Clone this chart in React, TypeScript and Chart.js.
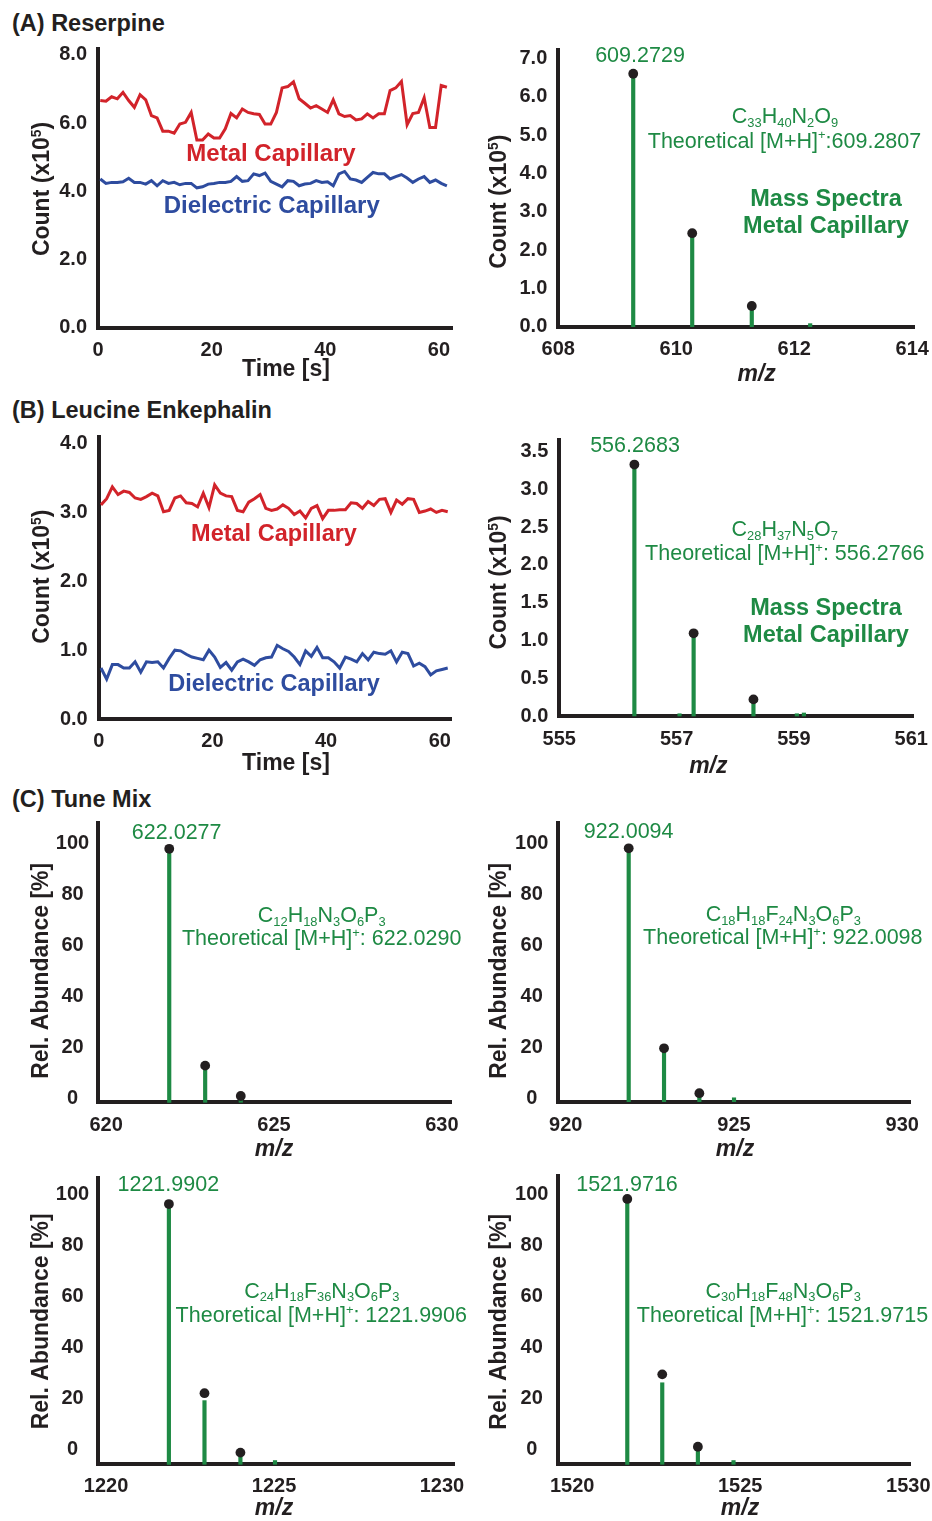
import React, { useEffect, useRef } from 'react';
import { Chart, registerables } from 'chart.js';

Chart.register(...registerables);

const FONT = '"Liberation Sans", Arial, Helvetica, sans-serif';
const INK = '#231f20';
const RED = '#d2232a';
const BLUE = '#2e4c9f';
const GREEN = '#1e8a44';

// ---------- time traces ----------
const timeS = [0.4, 1.4, 2.4, 3.4, 4.4, 5.4, 6.4, 7.4, 8.4, 9.4, 10.4, 11.4, 12.4, 13.4, 14.4, 15.4, 16.4, 17.4, 18.4, 19.4, 20.4, 21.4, 22.4, 23.4, 24.4, 25.4, 26.4, 27.4, 28.4, 29.4, 30.4, 31.4, 32.4, 33.4, 34.4, 35.4, 36.4, 37.4, 38.4, 39.4, 40.4, 41.4, 42.4, 43.4, 44.4, 45.4, 46.4, 47.4, 48.4, 49.4, 50.4, 51.4, 52.4, 53.4, 54.4, 55.4, 56.4, 57.4, 58.4, 59.4, 60.4, 61.4];
const timeTicks = [0, 20, 40, 60];

const reserpineMetal = [6.66, 6.64, 6.77, 6.71, 6.9, 6.66, 6.46, 6.83, 6.68, 6.22, 6.15, 5.76, 5.76, 5.7, 5.97, 6.02, 6.31, 5.5, 5.5, 5.68, 5.56, 5.56, 5.83, 6.28, 6.15, 6.41, 6.31, 6.27, 6.25, 5.97, 5.97, 6.31, 7.03, 7.07, 7.21, 6.71, 6.58, 6.44, 6.51, 6.41, 6.31, 6.68, 6.27, 6.19, 6.22, 6.09, 6.12, 6.27, 6.15, 6.27, 6.27, 6.95, 7.03, 7.22, 5.95, 6.28, 6.31, 6.74, 5.87, 5.87, 7.1, 7.05];
const reserpineDielectric = [4.36, 4.23, 4.26, 4.26, 4.28, 4.38, 4.26, 4.26, 4.21, 4.31, 4.16, 4.31, 4.23, 4.26, 4.19, 4.23, 4.23, 4.1, 4.13, 4.21, 4.23, 4.26, 4.26, 4.29, 4.43, 4.29, 4.31, 4.51, 4.46, 4.53, 4.29, 4.21, 4.13, 4.31, 4.29, 4.16, 4.21, 4.23, 4.31, 4.26, 4.28, 4.16, 4.51, 4.58, 4.36, 4.33, 4.26, 4.41, 4.55, 4.51, 4.51, 4.36, 4.43, 4.49, 4.39, 4.26, 4.36, 4.43, 4.26, 4.33, 4.23, 4.16];
const reserpineCountTicks = [0, 2, 4, 6, 8];

const leuEnkMetal = [3.11, 3.2, 3.37, 3.26, 3.31, 3.29, 3.21, 3.19, 3.23, 3.28, 3.24, 3.01, 3.03, 3.21, 3.24, 3.14, 3.13, 3.08, 3.28, 3.07, 3.4, 3.28, 3.24, 3.23, 3.03, 3.01, 3.15, 3.2, 3.26, 3.06, 3.03, 3.05, 3.11, 3.06, 2.97, 3.02, 2.92, 3.06, 3.1, 2.91, 3.03, 3.03, 3.04, 3.04, 3.14, 3.13, 3.06, 3.16, 3.1, 3.19, 3.2, 3.0, 3.18, 3.12, 3.2, 3.19, 3.0, 3.02, 3.05, 3.0, 3.03, 3.01];
const leuEnkDielectric = [0.74, 0.58, 0.79, 0.79, 0.74, 0.74, 0.83, 0.68, 0.83, 0.82, 0.83, 0.74, 0.88, 1.0, 0.99, 0.94, 0.9, 0.88, 0.86, 1.0, 0.9, 0.75, 0.82, 0.71, 0.83, 0.87, 0.83, 0.78, 0.86, 0.89, 0.9, 1.07, 1.02, 0.98, 0.9, 0.79, 0.99, 0.91, 1.04, 0.89, 0.89, 0.83, 0.74, 0.9, 0.87, 0.83, 0.95, 0.86, 0.97, 0.95, 0.94, 0.99, 0.83, 0.97, 0.95, 0.77, 0.81, 0.76, 0.64, 0.7, 0.72, 0.74];
const leuEnkCountTicks = [0, 1, 2, 3, 4];

// ---------- mass spectra ----------
const reserpineMz = [609.27, 610.27, 611.28];
const reserpineCounts = [6.6, 2.44, 0.54];
const reserpineMinorMz = [612.27];
const reserpineMinorCounts = [0.08];
const reserpineMzTicks = [608, 610, 612, 614];
const reserpineSpecTicks = [0, 1, 2, 3, 4, 5, 6, 7];

const leuEnkMz = [556.28, 557.29, 558.31];
const leuEnkCounts = [3.33, 1.095, 0.22];
const leuEnkMinorMz = [557.05, 559.05, 559.17];
const leuEnkMinorCounts = [0.03, 0.03, 0.04];
const leuEnkMzTicks = [555, 557, 559, 561];
const leuEnkSpecTicks = [0, 0.5, 1, 1.5, 2, 2.5, 3, 3.5];

const abundanceTicks = [0, 20, 40, 60, 80, 100];

const tune622Mz = [621.88, 622.95, 624.01];
const tune622Stems = [97.8, 12.8, 0.9];
const tune622Dots = [97.8, 12.8, 0.9];
const tune622Ticks = [620, 625, 630];

const tune922Mz = [921.87, 922.92, 923.97];
const tune922Stems = [98.0, 19.6, 2.0];
const tune922Dots = [98.0, 19.6, 2.0];
const tune922MinorMz = [925.0];
const tune922MinorVals = [0.2];
const tune922Ticks = [920, 925, 930];

const tune1222Mz = [1221.87, 1222.93, 1224.0];
const tune1222Stems = [96.2, 19.1, -2.9];
const tune1222Dots = [96.2, 22.0, -1.3];
const tune1222MinorMz = [1225.03];
const tune1222MinorVals = [-4.4];
const tune1222Ticks = [1220, 1225, 1230];

const tune1522Mz = [1521.64, 1522.68, 1523.74];
const tune1522Stems = [98.2, 26.1, -0.5];
const tune1522Dots = [98.2, 29.4, 1.0];
const tune1522MinorMz = [1524.8];
const tune1522MinorVals = [-4.4];
const tune1522Ticks = [1520, 1525, 1530];

// ---------- helpers ----------
type Seg = { t: string; k: 'n' | 'sub' | 'sup' };
function parseRich(s: string): Seg[] {
  const out: Seg[] = [];
  const re = /([_^])\{([^}]*)\}/g;
  let last = 0;
  let m: RegExpExecArray | null;
  while ((m = re.exec(s))) {
    if (m.index > last) out.push({ t: s.slice(last, m.index), k: 'n' });
    out.push({ t: m[2], k: m[1] === '_' ? 'sub' : 'sup' });
    last = re.lastIndex;
  }
  if (last < s.length) out.push({ t: s.slice(last), k: 'n' });
  return out;
}

type TextItem = {
  text: string; x: number; y: number; size: number; color: string;
  bold?: boolean; italic?: boolean; rotate?: number;
};

function drawRich(ctx: CanvasRenderingContext2D, it: TextItem, x: number, y: number) {
  const segs = parseRich(it.text);
  const small = it.size * 0.6;
  const fontFor = (k: string) =>
    `${it.italic ? 'italic ' : ''}${it.bold ? 'bold ' : ''}${k === 'n' ? it.size : small}px ${FONT}`;
  ctx.save();
  let total = 0;
  const widths = segs.map((s) => {
    ctx.font = fontFor(s.k);
    const w = ctx.measureText(s.t).width;
    total += w;
    return w;
  });
  ctx.translate(x, y);
  if (it.rotate) ctx.rotate(it.rotate);
  ctx.fillStyle = it.color;
  ctx.textBaseline = 'middle';
  ctx.textAlign = 'left';
  let cx = -total / 2;
  segs.forEach((s, i) => {
    ctx.font = fontFor(s.k);
    const dy = s.k === 'sub' ? it.size * 0.28 : s.k === 'sup' ? -it.size * 0.27 : 0;
    ctx.fillText(s.t, cx, dy);
    cx += widths[i];
  });
  ctx.restore();
}

type Rect = { left: number; top: number; width: number; height: number };
type Area = { left: number; top: number; right: number; bottom: number };
type AxisSpec = { min: number; max: number; ticks: number[]; dec: number; pad: number; cross?: string };
type PanelSpec = {
  id: string;
  kind: 'line' | 'bar';
  canvas: Rect;
  area: Area;
  x: AxisSpec;
  y: AxisSpec;
  datasets: any[];
  texts: TextItem[];
};

const pts = (xs: number[], ys: number[]) => xs.map((x, i) => ({ x, y: ys[i] }));

const traceSet = (vals: number[], color: string) => ({
  type: 'line', data: pts(timeS, vals), borderColor: color, borderWidth: 3,
  pointRadius: 0, tension: 0, fill: false, clip: false,
});
const stemSet = (xs: number[], ys: number[], base: number) => ({
  type: 'bar', data: pts(xs, ys), backgroundColor: GREEN, borderWidth: 0,
  barThickness: 3.5, grouped: false, base, order: 2, clip: false,
});
const dotSet = (xs: number[], ys: number[]) => ({
  type: 'scatter', data: pts(xs, ys), backgroundColor: INK, borderWidth: 0,
  pointRadius: 4.9, order: 0, clip: false,
});

const ROT = -Math.PI / 2;
const countTitle = (x: number, y: number): TextItem => ({ text: 'Count (x10^{5})', x, y, size: 23, color: INK, bold: true, rotate: ROT });
const abundTitle = (x: number, y: number): TextItem => ({ text: 'Rel. Abundance [%]', x, y, size: 23, color: INK, bold: true, rotate: ROT });
const timeTitle = (x: number, y: number): TextItem => ({ text: 'Time [s]', x, y, size: 23, color: INK, bold: true });
const mzTitle = (x: number, y: number): TextItem => ({ text: 'm/z', x, y, size: 23, color: INK, bold: true, italic: true });
const greenText = (text: string, x: number, y: number): TextItem => ({ text, x, y, size: 21.5, color: GREEN });
const greenBold = (text: string, x: number, y: number): TextItem => ({ text, x, y, size: 23.5, color: GREEN, bold: true });

const LEFT_W = 470;
const RIGHT_L = 470;
const RIGHT_W = 462;

const panels: PanelSpec[] = [
  {
    id: 'a-trace', kind: 'line',
    canvas: { left: 0, top: 35, width: LEFT_W, height: 360 },
    area: { left: 98, top: 49, right: 452, bottom: 327.7 },
    x: { min: 0, max: 62.3, ticks: timeTicks, dec: 0, pad: 11 },
    y: { min: 0, max: 8.17, ticks: reserpineCountTicks, dec: 1, pad: 11 },
    datasets: [traceSet(reserpineMetal, RED), traceSet(reserpineDielectric, BLUE)],
    texts: [
      { text: 'Metal Capillary', x: 271, y: 154, size: 24, color: RED, bold: true },
      { text: 'Dielectric Capillary', x: 271.7, y: 206.7, size: 24, color: BLUE, bold: true },
      countTitle(43, 189),
      timeTitle(286, 370),
    ],
  },
  {
    id: 'a-spec', kind: 'bar',
    canvas: { left: RIGHT_L, top: 35, width: RIGHT_W, height: 360 },
    area: { left: 558.3, top: 50, right: 914, bottom: 326.7 },
    x: { min: 608, max: 614.03, ticks: reserpineMzTicks, dec: 0, pad: 11 },
    y: { min: 0, max: 7.22, ticks: reserpineSpecTicks, dec: 1, pad: 11 },
    datasets: [
      stemSet(reserpineMz, reserpineCounts, 0),
      stemSet(reserpineMinorMz, reserpineMinorCounts, 0),
      dotSet(reserpineMz, reserpineCounts),
    ],
    texts: [
      greenText('609.2729', 640, 56),
      greenText('C_{33}H_{40}N_{2}O_{9}', 785, 117),
      greenText('Theoretical [M+H]^{+}:609.2807', 784.5, 141.7),
      greenBold('Mass Spectra', 826, 200),
      greenBold('Metal Capillary', 826, 226.7),
      countTitle(500, 201.7),
      mzTitle(756.7, 375),
    ],
  },
  {
    id: 'b-trace', kind: 'line',
    canvas: { left: 0, top: 422, width: LEFT_W, height: 360 },
    area: { left: 98.7, top: 436.7, right: 451.7, bottom: 719 },
    x: { min: 0, max: 62.1, ticks: timeTicks, dec: 0, pad: 10 },
    y: { min: 0, max: 4.1, ticks: leuEnkCountTicks, dec: 1, pad: 11 },
    datasets: [traceSet(leuEnkMetal, RED), traceSet(leuEnkDielectric, BLUE)],
    texts: [
      { text: 'Metal Capillary', x: 274, y: 535, size: 23.5, color: RED, bold: true },
      { text: 'Dielectric Capillary', x: 274, y: 685, size: 23.5, color: BLUE, bold: true },
      countTitle(43, 576.7),
      timeTitle(286, 763.3),
    ],
  },
  {
    id: 'b-spec', kind: 'bar',
    canvas: { left: RIGHT_L, top: 422, width: RIGHT_W, height: 360 },
    area: { left: 559.3, top: 440, right: 913, bottom: 716 },
    x: { min: 555, max: 561.03, ticks: leuEnkMzTicks, dec: 0, pad: 11.5 },
    y: { min: 0, max: 3.655, ticks: leuEnkSpecTicks, dec: 1, pad: 11 },
    datasets: [
      stemSet(leuEnkMz, leuEnkCounts, 0),
      stemSet(leuEnkMinorMz, leuEnkMinorCounts, 0),
      dotSet(leuEnkMz, leuEnkCounts),
    ],
    texts: [
      greenText('556.2683', 635, 446),
      greenText('C_{28}H_{37}N_{5}O_{7}', 784.7, 530),
      greenText('Theoretical [M+H]^{+}: 556.2766', 784.8, 554.3),
      greenBold('Mass Spectra', 826, 609),
      greenBold('Metal Capillary', 826, 636),
      countTitle(500, 582.5),
      mzTitle(708.3, 766.7),
    ],
  },
  {
    id: 'c-622', kind: 'bar',
    canvas: { left: 0, top: 812, width: LEFT_W, height: 350 },
    area: { left: 97.7, top: 823.3, right: 451, bottom: 1102.3 },
    x: { min: 619.75, max: 630.27, ticks: tune622Ticks, dec: 0, pad: 11 },
    y: { min: -1.57, max: 107.8, ticks: abundanceTicks, dec: 0, pad: 8.5, cross: 'center' },
    datasets: [
      stemSet(tune622Mz, tune622Stems, -1.57),
      dotSet(tune622Mz, tune622Dots),
    ],
    texts: [
      greenText('622.0277', 176.7, 832.7),
      greenText('C_{12}H_{18}N_{3}O_{6}P_{3}', 321.7, 916),
      greenText('Theoretical [M+H]^{+}: 622.0290', 321.7, 939.3),
      abundTitle(41.7, 970.8),
      mzTitle(274, 1149.3),
    ],
  },
  {
    id: 'c-922', kind: 'bar',
    canvas: { left: RIGHT_L, top: 812, width: RIGHT_W, height: 350 },
    area: { left: 557.7, top: 823.3, right: 910, bottom: 1101.7 },
    x: { min: 919.76, max: 930.23, ticks: tune922Ticks, dec: 0, pad: 11.5 },
    y: { min: -1.33, max: 107.8, ticks: abundanceTicks, dec: 0, pad: 9.3, cross: 'center' },
    datasets: [
      stemSet(tune922Mz, tune922Stems, -1.33),
      stemSet(tune922MinorMz, tune922MinorVals, -1.33),
      dotSet(tune922Mz, tune922Dots),
    ],
    texts: [
      greenText('922.0094', 628.7, 832.3),
      greenText('C_{18}H_{18}F_{24}N_{3}O_{6}P_{3}', 783.3, 915),
      greenText('Theoretical [M+H]^{+}: 922.0098', 782.8, 938.3),
      abundTitle(499.3, 970.8),
      mzTitle(735, 1149.3),
    ],
  },
  {
    id: 'c-1222', kind: 'bar',
    canvas: { left: 0, top: 1165, width: LEFT_W, height: 356 },
    area: { left: 97.7, top: 1178.3, right: 454, bottom: 1464.3 },
    x: { min: 1219.75, max: 1230.36, ticks: tune1222Ticks, dec: 0, pad: 10 },
    y: { min: -5.88, max: 106.3, ticks: abundanceTicks, dec: 0, pad: 8.5, cross: 'center' },
    datasets: [
      stemSet(tune1222Mz, tune1222Stems, -5.88),
      stemSet(tune1222MinorMz, tune1222MinorVals, -5.88),
      dotSet(tune1222Mz, tune1222Dots),
    ],
    texts: [
      greenText('1221.9902', 168.3, 1185),
      greenText('C_{24}H_{18}F_{36}N_{3}O_{6}P_{3}', 321.8, 1291.7),
      greenText('Theoretical [M+H]^{+}: 1221.9906', 321.3, 1316),
      abundTitle(41.7, 1321.3),
      mzTitle(274, 1509),
    ],
  },
  {
    id: 'c-1522', kind: 'bar',
    canvas: { left: RIGHT_L, top: 1165, width: RIGHT_W, height: 356 },
    area: { left: 557.7, top: 1176, right: 910, bottom: 1464.3 },
    x: { min: 1519.57, max: 1530.05, ticks: tune1522Ticks, dec: 0, pad: 10 },
    y: { min: -5.88, max: 107.2, ticks: abundanceTicks, dec: 0, pad: 9.3, cross: 'center' },
    datasets: [
      stemSet(tune1522Mz, tune1522Stems, -5.88),
      stemSet(tune1522MinorMz, tune1522MinorVals, -5.88),
      dotSet(tune1522Mz, tune1522Dots),
    ],
    texts: [
      greenText('1521.9716', 627, 1185),
      greenText('C_{30}H_{18}F_{48}N_{3}O_{6}P_{3}', 783.2, 1291.7),
      greenText('Theoretical [M+H]^{+}: 1521.9715', 782.5, 1316),
      abundTitle(499.3, 1321.7),
      mzTitle(740, 1509),
    ],
  },
];

const sectionTitles = [
  { text: '(A) Reserpine', y: 23 },
  { text: '(B) Leucine Enkephalin', y: 410 },
  { text: '(C) Tune Mix', y: 799 },
];

function scaleOpts(ax: AxisSpec, horizontal: boolean, fitSize: number) {
  return {
    type: 'linear',
    min: ax.min,
    max: ax.max,
    offset: false,
    z: 1,
    grid: { display: false, drawTicks: false },
    border: { display: true, color: INK, width: 4 },
    afterBuildTicks: (scale: any) => {
      scale.ticks = ax.ticks.map((v) => ({ value: v }));
    },
    afterFit: (scale: any) => {
      if (horizontal) scale.height = fitSize;
      else scale.width = fitSize;
      scale.paddingTop = 0;
      scale.paddingBottom = 0;
      scale.paddingLeft = 0;
      scale.paddingRight = 0;
    },
    ticks: {
      color: INK,
      font: { family: FONT, size: 20, weight: 'bold' },
      padding: ax.pad,
      autoSkip: false,
      maxRotation: 0,
      minRotation: 0,
      crossAlign: ax.cross || 'near',
      callback: (v: any) => Number(v).toFixed(ax.dec),
    },
  };
}

function Panel({ spec }: { spec: PanelSpec }) {
  const ref = useRef<HTMLCanvasElement>(null);
  const c = spec.canvas;
  useEffect(() => {
    const a = spec.area;
    const textPlugin = {
      id: 'panelText',
      afterDraw(chart: any) {
        const ctx = chart.ctx as CanvasRenderingContext2D;
        spec.texts.forEach((t) => drawRich(ctx, t, t.x - c.left, t.y - c.top));
      },
    };
    const chart = new Chart(ref.current as HTMLCanvasElement, {
      type: spec.kind as any,
      data: { datasets: spec.datasets },
      options: {
        animation: false,
        responsive: false,
        events: [],
        layout: {
          padding: {
            left: 0,
            top: a.top - c.top,
            right: c.left + c.width - a.right,
            bottom: 0,
          },
        },
        plugins: {
          legend: { display: false },
          tooltip: { enabled: false },
          title: { display: false },
        },
        scales: {
          x: scaleOpts(spec.x, true, c.top + c.height - a.bottom),
          y: scaleOpts(spec.y, false, a.left - c.left),
        },
      } as any,
      plugins: [textPlugin],
    });
    return () => chart.destroy();
  }, [spec]);
  return (
    <canvas
      ref={ref}
      width={c.width}
      height={c.height}
      style={{ position: 'absolute', left: c.left, top: c.top, width: c.width, height: c.height, display: 'block' }}
    />
  );
}

export default function App() {
  return (
    <div style={{ position: 'absolute', left: 0, top: 0, width: 932, height: 1521, background: '#ffffff', overflow: 'hidden' }}>
      {sectionTitles.map((s) => (
        <div
          key={s.text}
          style={{
            position: 'absolute', left: 12, top: s.y - 14, height: 28, lineHeight: '28px',
            fontFamily: FONT, fontWeight: 'bold', fontSize: 23.5, color: INK, whiteSpace: 'nowrap',
          }}
        >
          {s.text}
        </div>
      ))}
      {panels.map((p) => (
        <Panel key={p.id} spec={p} />
      ))}
    </div>
  );
}
